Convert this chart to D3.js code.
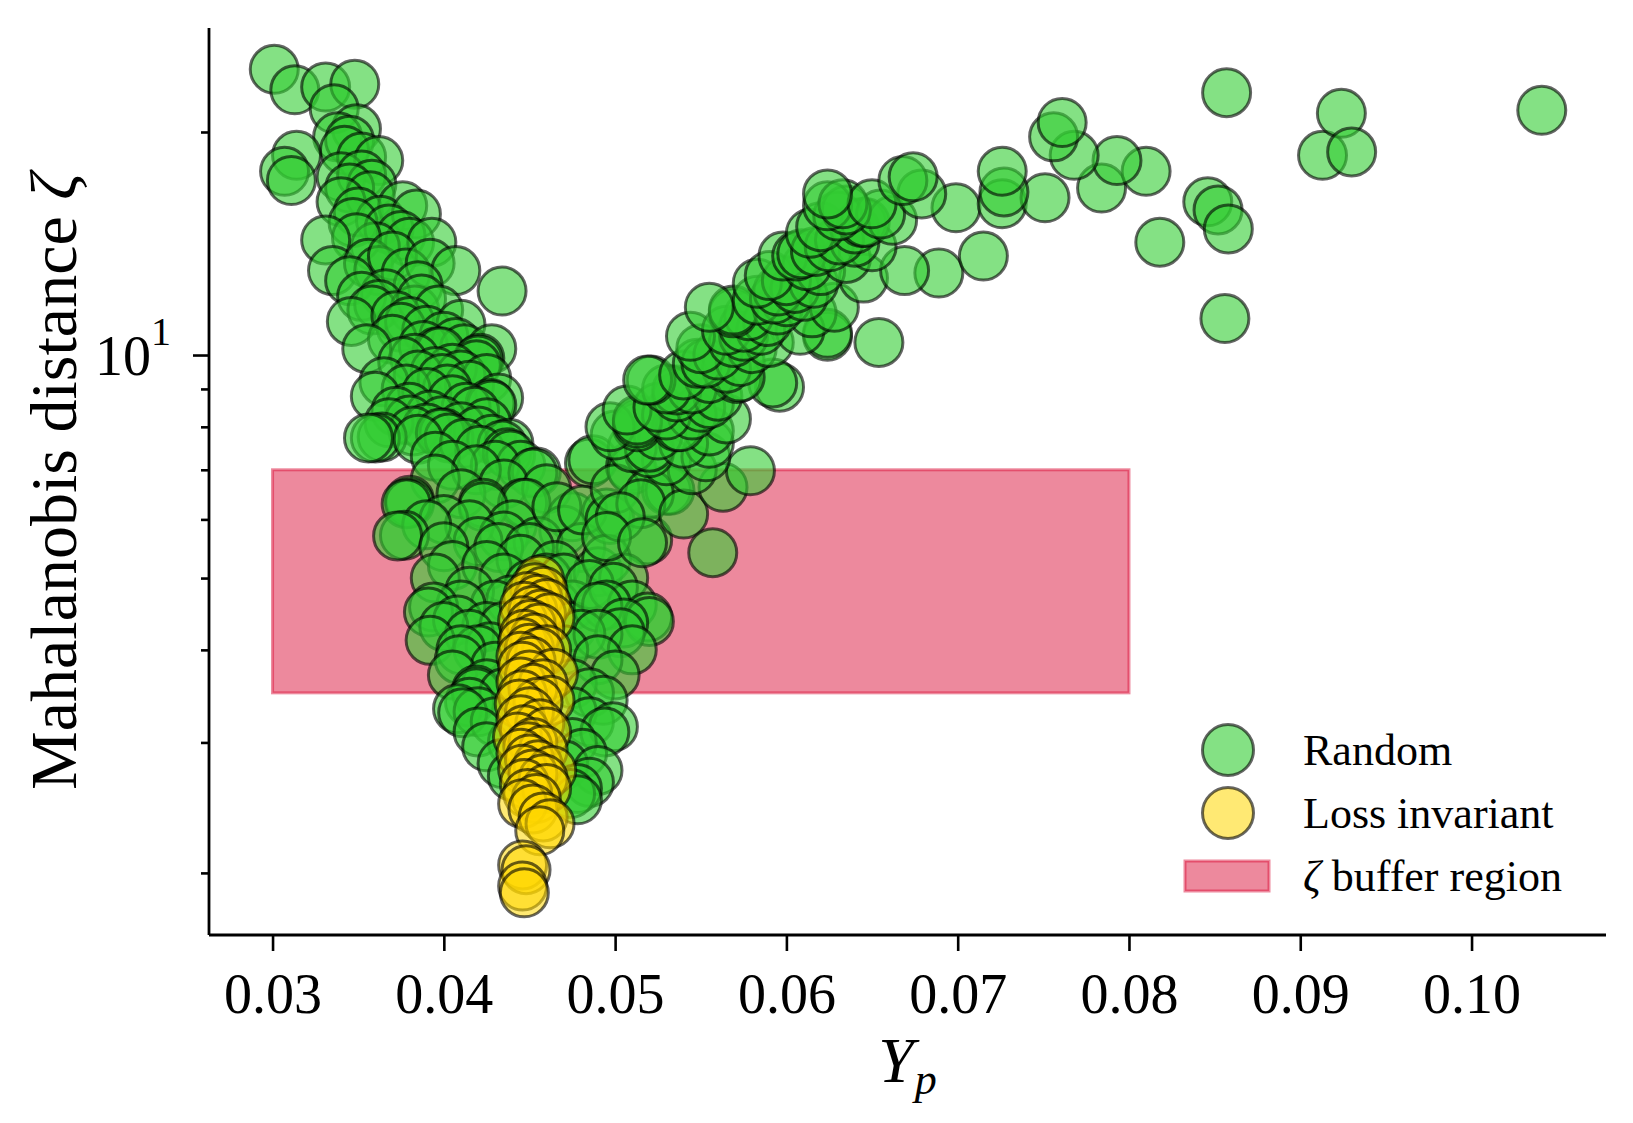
<!DOCTYPE html>
<html><head><meta charset="utf-8">
<script src="https://cdn.jsdelivr.net/npm/d3@7"></script>
<style>
body{margin:0;background:#fff}
text{font-family:"Liberation Serif","Times New Roman",serif;fill:#000}
</style>
</head><body>
<svg id="chart" width="1633" height="1123"></svg>
<script>
// ---- data ----
const xTicks = [0.03,0.04,0.05,0.06,0.07,0.08,0.09,0.10];
const xTickLabels = ["0.03","0.04","0.05","0.06","0.07","0.08","0.09","0.10"];
const yMajorTicks = [10];
const yMinorTicks = [2,3,4,5,6,7,8,9,20];
const bufferYp = [0.03, 0.08];
const bufferZeta = [3.5, 7.0];
const legendLabels = ["Random","Loss invariant","buffer region"];

const randomPoints = [
// upper-left arm
[0.0301,24.3],[0.0313,22.8],[0.0331,23.0],[0.0348,23.2],[0.0336,21.5],[0.0349,20.2],[0.0338,19.7],[0.0345,19.5],[0.0342,18.9],[0.0352,18.5],[0.0314,18.6],[0.0307,17.7],[0.0311,17.2],[0.0362,18.3],[0.0340,17.4],[0.0352,17.5],[0.0358,17.0],[0.0345,16.8],[0.0357,16.4],[0.0340,16.1],[0.0350,15.6],[0.0376,15.9],[0.0363,15.2],[0.0347,15.1],[0.0384,15.5],[0.0368,14.8],[0.0375,14.5],[0.0380,14.2],[0.0393,14.2],[0.0360,14.0],[0.0349,14.4],[0.0331,14.3],[0.0335,13.0],[0.0356,13.3],[0.0362,13.0],[0.0370,13.6],[0.0378,12.9],[0.0392,13.3],[0.0407,13.0],[0.0345,12.6],[0.0385,12.4],[0.0366,12.1],[0.0352,12.0],[0.0434,12.2],[0.0362,11.7],[0.0358,11.5],[0.0383,11.5],[0.0346,11.1],[0.0387,11.9],[0.0397,11.5],[0.0372,11.3],[0.0380,11.1],[0.0375,10.9],[0.0390,10.8],[0.0410,11.0],[0.0400,10.6],[0.0370,10.5],[0.0407,10.4],[0.0388,10.3],[0.0355,10.2],[0.0412,10.2],[0.0396,10.1],[0.0428,10.2],[0.0398,10.1],[0.0383,9.9],[0.0421,9.9],[0.0420,9.85],[0.0376,9.8],[0.0419,9.7],[0.0405,9.6],[0.0395,9.5],[0.0385,9.4],[0.0410,9.4],[0.0399,9.3],[0.0425,9.3],[0.0365,9.2],[0.0415,9.1],[0.0402,9.0],[0.0378,9.0],[0.0390,8.9],[0.0360,8.8],[0.0432,8.75],[0.0405,8.7],[0.0427,8.6],[0.0428,8.56],[0.0380,8.5],[0.0413,8.5],[0.0372,8.4],[0.0418,8.4],[0.0392,8.3],[0.0380,8.17],[0.0399,8.15],[0.0368,8.1],[0.0425,8.1],[0.0410,8.0],[0.0390,7.97],[0.0420,7.9],[0.0382,7.9],[0.0400,7.85],[0.0398,7.85],[0.0364,7.75],[0.0360,7.73],[0.0403,7.73],[0.0428,7.7],[0.0385,7.7],[0.0356,7.73],[0.0412,7.6],[0.0438,7.6],[0.0434,7.56],[0.0421,7.44],[0.0437,7.38],[0.0439,7.33],[0.0395,7.3],[0.0445,7.1],[0.0430,7.1],[0.0405,7.1],[0.0419,7.0],[0.0454,6.95],[0.0452,6.93],
// bottom of the V
[0.0395,6.8],[0.0435,6.7],[0.0460,6.6],[0.0410,6.5],[0.0380,6.37],[0.0380,6.31],[0.0423,6.31],[0.0446,6.31],[0.0448,6.31],[0.0378,6.3],[0.0423,6.24],[0.0475,6.05],[0.0495,6.12],[0.0400,6.0],[0.0440,5.9],[0.0415,5.9],[0.0390,5.9],[0.0470,5.8],[0.0377,5.71],[0.0373,5.7],[0.0435,5.7],[0.0455,5.6],[0.0420,5.6],[0.0400,5.51],[0.0432,5.50],[0.0450,5.5],[0.0480,5.5],[0.0445,5.3],[0.0405,5.2],[0.0425,5.2],[0.0465,5.2],[0.0490,5.1],[0.0395,5.0],[0.0435,5.0],[0.0460,5.0],[0.0470,5.0],[0.0450,4.9],[0.0415,4.8],[0.0439,4.67],[0.0430,4.6],[0.0410,4.6],[0.0465,4.6],[0.0475,4.6],[0.0394,4.57],[0.0391,4.5],[0.0408,4.39],[0.0425,4.3],[0.0400,4.3],[0.0435,4.3],[0.0475,4.3],[0.0415,4.2],[0.0392,4.12],[0.0427,4.04],[0.0420,4.0],[0.0410,4.0],[0.0409,3.88],[0.0430,3.8],[0.0405,3.7],[0.0425,3.6],[0.0419,3.53],[0.0419,3.5],[0.0435,3.5],[0.0415,3.4],[0.0408,3.33],[0.0420,3.3],[0.0411,3.29],[0.0430,3.2],[0.0420,3.1],[0.0440,3.0],[0.0425,2.96],[0.0434,2.81],[0.0440,2.7],[0.0455,2.6],
[0.0485,7.15],[0.0466,6.24],[0.0481,6.18],[0.0497,6.0],[0.0519,5.63],[0.0495,5.3],[0.0505,5.0],[0.0485,4.9],[0.0499,4.86],[0.0510,4.6],[0.0495,4.6],[0.0490,4.57],[0.0519,4.43],[0.0520,4.37],[0.0505,4.35],[0.0503,4.22],[0.0480,4.2],[0.0490,4.2],[0.0470,4.0],[0.0510,4.0],[0.0490,3.88],[0.0500,3.7],[0.0475,3.6],[0.0485,3.5],[0.0493,3.42],[0.0475,3.3],[0.0485,3.2],[0.0499,3.15],[0.0494,3.1],[0.0475,3.0],[0.0481,2.9],[0.0470,2.8],[0.0490,2.75],[0.0485,2.65],[0.0478,2.6],[0.0474,2.56],[0.0478,2.51],
// rising right arm
[0.0487,7.22],[0.0509,7.07],[0.0510,7.0],[0.0500,6.6],[0.0530,6.57],[0.0532,6.57],[0.0520,6.5],[0.0515,6.3],[0.0540,6.1],[0.0503,6.05],[0.0495,5.69],[0.0516,5.58],[0.0557,5.41],[0.0563,6.63],[0.0579,6.98],[0.0545,7.0],[0.0530,7.2],[0.0553,7.29],[0.0520,7.38],[0.0510,7.5],[0.0520,7.51],[0.0555,7.6],[0.0540,7.6],[0.0500,7.8],[0.0525,7.8],[0.0555,7.9],[0.0513,8.0],[0.0536,8.0],[0.0538,8.0],[0.0497,8.0],[0.0513,8.09],[0.0513,8.17],[0.0565,8.2],[0.0545,8.3],[0.0530,8.3],[0.0507,8.43],[0.0525,8.5],[0.0550,8.5],[0.0555,8.6],[0.0536,8.78],[0.0560,8.8],[0.0536,8.97],[0.0545,9.0],[0.0530,9.0],[0.0596,9.05],[0.0592,9.17],[0.0521,9.25],[0.0519,9.25],[0.0571,9.3],[0.0555,9.3],[0.0573,9.34],[0.0540,9.4],[0.0565,9.6],[0.0548,9.75],[0.0553,9.75],[0.0573,9.8],[0.0560,10.0],[0.0580,10.2],[0.0550,10.2],[0.0569,10.4],[0.0590,10.4],[0.0654,10.4],[0.0544,10.6],[0.0575,10.6],[0.0624,10.6],[0.0624,10.7],[0.0608,10.8],[0.0565,10.8],[0.0585,10.8],[0.0575,10.9],[0.0589,11.1],[0.0578,11.3],[0.0569,11.4],[0.0615,11.4],[0.0569,11.5],[0.0595,11.5],[0.0555,11.6],[0.0628,11.6],[0.0600,11.8],[0.0583,11.86],[0.0593,11.9],[0.0610,12.0],[0.0595,12.2],[0.0605,12.3],[0.0583,12.5],[0.0616,12.5],[0.0600,12.6],[0.0645,12.7],[0.0590,12.8],[0.0689,12.9],[0.0620,13.0],[0.0669,13.0],[0.0612,13.2],[0.0635,13.5],[0.0598,13.6],[0.0606,13.6],[0.0715,13.6],[0.0609,13.7],[0.0617,13.8],[0.0650,14.0],[0.0625,14.0],[0.0640,14.2],[0.0631,14.3],[0.0614,14.6],[0.0640,14.8],[0.0620,14.9],[0.0644,15.1],[0.0646,15.1],[0.0662,15.2],[0.0630,15.4],[0.0655,15.5],[0.0635,15.7],[0.0699,15.8],[0.0624,15.9],[0.0726,16.0],[0.0633,16.0],[0.0650,16.0],[0.0751,16.3],[0.0624,16.5],[0.0679,16.5],[0.0727,16.6],[0.0784,16.8],[0.0668,17.2],[0.0674,17.4],[0.0810,17.7],[0.0726,17.7],[0.0793,18.3],[0.0768,18.6],[0.0756,19.7],[0.0761,20.6],
// far right
[0.0818,14.2],[0.0846,16.1],[0.0852,15.7],[0.0858,14.8],[0.0856,11.2],[0.0857,22.6],[0.0913,18.6],[0.0924,21.2],[0.0930,18.8],[0.1041,21.4]
];

const invariantPoints = [
[0.0456,4.97],[0.0453,4.85],[0.0458,4.8],[0.0449,4.72],[0.0455,4.68],[0.0460,4.62],[0.0447,4.58],[0.0452,4.52],[0.0457,4.47],[0.0462,4.42],[0.0446,4.38],[0.0451,4.33],[0.0456,4.28],[0.0447,4.2],[0.0453,4.15],[0.0446,4.09],[0.0450,4.02],[0.0460,4.0],[0.0456,3.97],[0.0445,3.92],[0.0451,3.86],[0.0446,3.8],[0.0464,3.72],[0.0450,3.7],[0.0445,3.62],[0.0458,3.6],[0.0452,3.55],[0.0446,3.48],[0.0462,3.42],[0.0455,3.4],[0.0444,3.38],[0.0450,3.3],[0.0445,3.22],[0.0456,3.18],[0.0447,3.12],[0.0460,3.1],[0.0443,3.05],[0.0452,3.0],[0.0449,2.96],[0.0458,2.93],[0.0445,2.9],[0.0450,2.85],[0.0455,2.8],[0.0446,2.76],[0.0463,2.75],[0.0452,2.72],[0.0458,2.68],[0.0447,2.64],[0.0460,2.6],[0.0449,2.56],[0.0454,2.52],[0.0446,2.48],[0.0452,2.44],[0.0458,2.38],[0.0462,2.33],[0.0456,2.28],[0.0446,2.05],[0.0448,2.02],[0.0446,1.92],[0.0447,1.88]
];

// ---- layout ----
const W = 1633, H = 1123;
const m = {left:209, top:28, right:27, bottom:188};
const svg = d3.select("#chart");
const x = d3.scaleLinear().domain([0.02629, 0.10785]).range([m.left, W - m.right]);
const y = d3.scaleLog().domain([1.649, 27.63]).range([H - m.bottom, m.top]);

const R = 24;
const green = "#32CD32", gold = "#FFD700", crimson = "#DC143C";

// buffer region
svg.append("rect")
  .attr("x", x(bufferYp[0])).attr("y", y(bufferZeta[1]))
  .attr("width", x(bufferYp[1]) - x(bufferYp[0]))
  .attr("height", y(bufferZeta[0]) - y(bufferZeta[1]))
  .attr("fill", crimson).attr("fill-opacity", 0.5)
  .attr("stroke", crimson).attr("stroke-opacity", 0.5).attr("stroke-width", 3);

const gPts = svg.append("g");
gPts.selectAll("circle.r").data(randomPoints).join("circle")
  .attr("class","r")
  .attr("cx", d => x(d[0])).attr("cy", d => y(d[1])).attr("r", R)
  .attr("fill", green).attr("fill-opacity", 0.6)
  .attr("stroke", "#000").attr("stroke-opacity", 0.6).attr("stroke-width", 3);
gPts.selectAll("circle.i").data(invariantPoints).join("circle")
  .attr("class","i")
  .attr("cx", d => x(d[0])).attr("cy", d => y(d[1])).attr("r", R)
  .attr("fill", gold).attr("fill-opacity", 0.55)
  .attr("stroke", "#000").attr("stroke-opacity", 0.6).attr("stroke-width", 3);

// axes
const xAxis = svg.append("g").attr("transform", `translate(0,${H - m.bottom})`)
  .call(d3.axisBottom(x).tickValues(xTicks).tickFormat((d,i) => xTickLabels[i]).tickSize(16).tickPadding(22).tickSizeOuter(0));
const yAxisMinor = svg.append("g").attr("transform", `translate(${m.left},0)`)
  .call(d3.axisLeft(y).tickValues(yMinorTicks).tickFormat("").tickSize(8).tickSizeOuter(0));
const yAxis = svg.append("g").attr("transform", `translate(${m.left},0)`)
  .call(d3.axisLeft(y).tickValues(yMajorTicks).tickFormat("").tickSize(16).tickSizeOuter(0));

[xAxis, yAxis, yAxisMinor].forEach(g => {
  g.select(".domain").attr("stroke", "#000").attr("stroke-width", 2.8);
  g.selectAll(".tick line").attr("stroke", "#000").attr("stroke-width", 2.6);
});
xAxis.select(".domain").attr("d", `M${m.left},0H${W - m.right}`);
yAxis.select(".domain").attr("d", `M0,${m.top}V${H - m.bottom}`);
yAxisMinor.select(".domain").remove();
xAxis.selectAll(".tick text").attr("font-size", 56).attr("font-family", "Liberation Serif").attr("fill","#000");

// 10^1 label
yAxis.selectAll(".tick").each(function(d){
  const t = d3.select(this).append("text")
    .attr("x", -38).attr("dy", "0.35em").attr("text-anchor", "end")
    .attr("font-size", 56).attr("fill","#000");
  t.append("tspan").text("10");
  t.append("tspan").attr("font-size", 40).attr("dy", "-0.75em").text(Math.round(Math.log10(d)));
});

// axis labels
const xl = svg.append("text").attr("x", (m.left + W - m.right)/2).attr("y", 1082)
  .attr("text-anchor","middle").attr("font-size", 64);
xl.append("tspan").attr("font-style","italic").text("Y");
xl.append("tspan").attr("font-style","italic").attr("font-size", 44).attr("dy", 12).attr("dx", 1).text("p");

const yl = svg.append("text")
  .attr("transform", `translate(76,${(m.top + H - m.bottom)/2}) rotate(-90)`)
  .attr("text-anchor","middle").attr("font-size", 66);
yl.append("tspan").text("Mahalanobis distance ");
yl.append("tspan").attr("font-style","italic").text("ζ");

// legend
const lg = svg.append("g");
const rowY = [750, 813, 876];
lg.append("circle").attr("cx",1228).attr("cy",rowY[0]).attr("r",25.5)
  .attr("fill",green).attr("fill-opacity",0.6).attr("stroke","#000").attr("stroke-opacity",0.6).attr("stroke-width",3);
lg.append("circle").attr("cx",1228).attr("cy",rowY[1]).attr("r",25.5)
  .attr("fill",gold).attr("fill-opacity",0.55).attr("stroke","#000").attr("stroke-opacity",0.6).attr("stroke-width",3);
lg.append("rect").attr("x",1185).attr("y",rowY[2]-15).attr("width",84).attr("height",30)
  .attr("fill",crimson).attr("fill-opacity",0.5).attr("stroke",crimson).attr("stroke-opacity",0.5).attr("stroke-width",3);
lg.selectAll("text.l").data(legendLabels).join("text").attr("class","l")
  .attr("x",1303).attr("y",(d,i)=>rowY[i]+15).attr("font-size",44)
  .each(function(d,i){
    const t = d3.select(this);
    if (i === 2) { t.append("tspan").attr("font-style","italic").text("ζ "); }
    t.append("tspan").text(d);
  });
</script>
</body></html>
